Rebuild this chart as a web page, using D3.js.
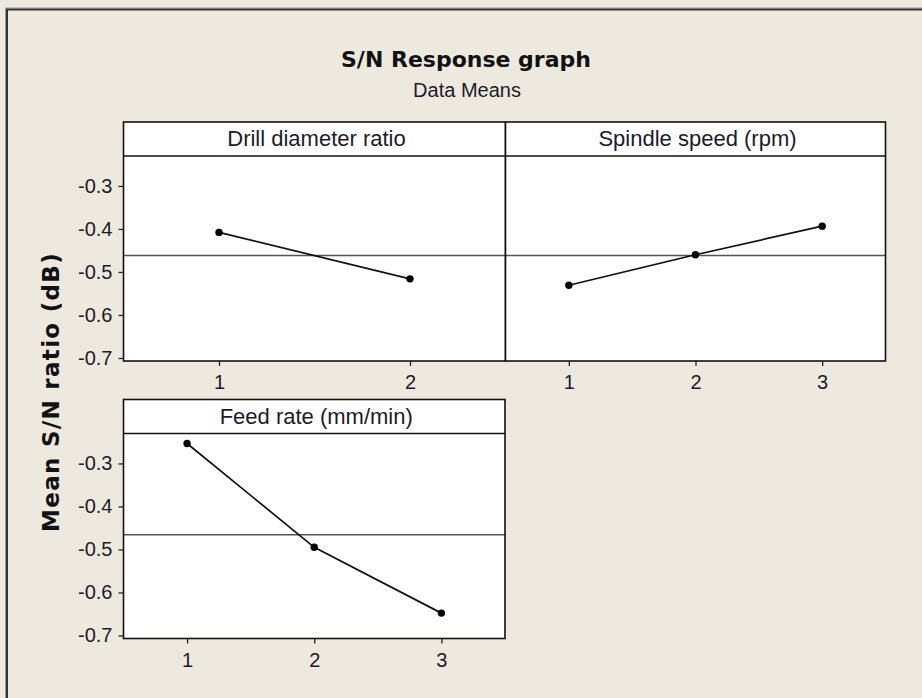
<!DOCTYPE html>
<html>
<head>
<meta charset="utf-8">
<script src="https://cdn.jsdelivr.net/npm/d3@7"></script>
<style>
  html, body { margin: 0; padding: 0; background: #EEE9DF; }
  svg { display: block; }
</style>
</head>
<body>
<svg id="chart" width="922" height="698"></svg>
<script>
// ---- data ----
const factors = ["Drill diameter ratio", "Spindle speed (rpm)", "Feed rate (mm/min)"];
const levels = [[1, 2], [1, 2, 3], [1, 2, 3]];
const drillValues = [-0.408, -0.516];
const spindleValues = [-0.531, -0.460, -0.3935];
const feedValues = [-0.2536, -0.495, -0.648];
const yTicks = [-0.3, -0.4, -0.5, -0.6, -0.7];
const titleText = "S/N Response graph";
const subtitleText = "Data Means";
const yLabel = "Mean S/N ratio (dB)";

const seriesValues = [drillValues, spindleValues, feedValues];

// ---- layout ----
const svg = d3.select("#chart");
const W = 922, H = 698;
const bg = "#EEE9DF";
svg.append("rect").attr("width", W).attr("height", H).attr("fill", bg);

// outer frame (only top & left visible)
svg.append("rect").attr("x", 5.5).attr("y", 8).attr("width", 1200).attr("height", 1200)
  .attr("fill", "none").attr("stroke", "#9a9a9a").attr("stroke-width", 1);
svg.append("rect").attr("x", 7).attr("y", 9.5).attr("width", 1200).attr("height", 1200)
  .attr("fill", "none").attr("stroke", "#333").attr("stroke-width", 2);

const panels = [
  { x0: 123.5, x1: 505.5, top: 122, stripH: 34, plotH: 205, leftAxis: true },
  { x0: 505.5, x1: 885.5, top: 122, stripH: 34, plotH: 205, leftAxis: false },
  { x0: 123.5, x1: 505.0, top: 399.5, stripH: 34, plotH: 205, leftAxis: true }
];

const yDomain = [-0.707, -0.2304];
const textColor = "#1b1b2b";
const fmt = d => d.toFixed(1); // hyphen-minus as in the reference

panels.forEach((p, i) => {
  const vals = seriesValues[i];
  const lv = levels[i];
  const plotTop = p.top + p.stripH;
  const plotBottom = plotTop + p.plotH;
  const x = d3.scaleLinear().domain([0.5, lv.length + 0.5]).range([p.x0, p.x1]);
  const y = d3.scaleLinear().domain(yDomain).range([plotBottom, plotTop]);
  const g = svg.append("g");

  g.append("rect").attr("x", p.x0).attr("y", p.top).attr("width", p.x1 - p.x0).attr("height", p.stripH + p.plotH)
    .attr("fill", "#fff");

  g.append("text").attr("x", (p.x0 + p.x1) / 2 + 2).attr("y", p.top + 24)
    .attr("text-anchor", "middle").attr("font-family", "Liberation Sans, Arial, sans-serif")
    .attr("font-size", 22).attr("fill", textColor).text(factors[i]);

  const mean = d3.mean(vals);
  g.append("line").attr("x1", p.x0).attr("x2", p.x1).attr("y1", y(mean)).attr("y2", y(mean))
    .attr("stroke", "#555").attr("stroke-width", 1.5);

  const pts = lv.map((l, k) => [l, vals[k]]);
  g.append("path").datum(pts)
    .attr("d", d3.line().x(d => x(d[0])).y(d => y(d[1])))
    .attr("fill", "none").attr("stroke", "#111").attr("stroke-width", 1.7);
  g.selectAll("circle.pt").data(pts).join("circle").attr("class", "pt")
    .attr("cx", d => x(d[0])).attr("cy", d => y(d[1])).attr("r", 3.7).attr("fill", "#000");

  g.append("rect").attr("x", p.x0).attr("y", p.top).attr("width", p.x1 - p.x0).attr("height", p.stripH + p.plotH)
    .attr("fill", "none").attr("stroke", "#111").attr("stroke-width", 1.6);
  g.append("line").attr("x1", p.x0).attr("x2", p.x1).attr("y1", plotTop).attr("y2", plotTop)
    .attr("stroke", "#111").attr("stroke-width", 1.6);

  const xa = g.append("g").attr("transform", `translate(0,${plotBottom})`)
    .call(d3.axisBottom(x).tickValues(lv).tickFormat(d3.format("d")).tickSize(5).tickPadding(9));
  xa.select(".domain").remove();
  xa.selectAll("line").attr("stroke", "#222").attr("stroke-width", 1.3);
  xa.selectAll("text").attr("font-family", "Liberation Sans, Arial, sans-serif")
    .attr("font-size", 20).attr("fill", textColor);

  if (p.leftAxis) {
    const ya = g.append("g").attr("transform", `translate(${p.x0},0)`)
      .call(d3.axisLeft(y).tickValues(yTicks).tickFormat(fmt).tickSize(5).tickPadding(6));
    ya.select(".domain").remove();
    ya.selectAll("line").attr("stroke", "#222").attr("stroke-width", 1.3);
    ya.selectAll("text").attr("font-family", "Liberation Sans, Arial, sans-serif")
      .attr("font-size", 20).attr("fill", textColor);
  }
});

svg.append("text").attr("x", 466).attr("y", 66.5).attr("text-anchor", "middle")
  .attr("font-family", "DejaVu Sans, sans-serif").attr("font-weight", "bold")
  .attr("font-size", 22).attr("fill", "#111").text(titleText);
svg.append("text").attr("x", 467).attr("y", 96.5).attr("text-anchor", "middle")
  .attr("font-family", "Liberation Sans, Arial, sans-serif")
  .attr("font-size", 20).attr("fill", textColor).text(subtitleText);

svg.append("text").attr("transform", "translate(58.5,392) rotate(-90)").attr("text-anchor", "middle")
  .attr("font-family", "DejaVu Sans, sans-serif").attr("font-weight", "bold")
  .attr("font-size", 23).attr("letter-spacing", 1.3).attr("fill", "#111").text(yLabel);
</script>
</body>
</html>
